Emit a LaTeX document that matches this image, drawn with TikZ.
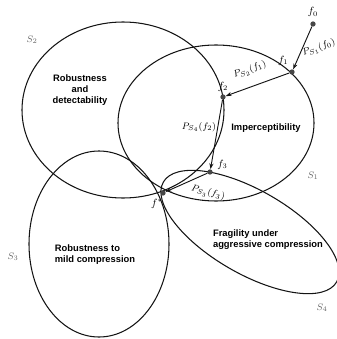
\documentclass[tikz,border=0pt]{standalone}
\usepackage{fontspec}
\setmainfont{Liberation Sans}
\usepackage{xcolor}
\usepackage{tikz}
\usetikzlibrary{arrows.meta,positioning}
\definecolor{tinta}{RGB}{20,20,20}
\definecolor{grispunto}{RGB}{70,70,70}
\definecolor{grisetiq}{RGB}{100,100,100}

\begin{document}
\begin{tikzpicture}[x=0.03cm,y=-0.03cm,
  conjunto/.style={draw=tinta,line width=0.9pt},
  punto/.style={circle,fill=grispunto,inner sep=0pt,minimum size=4.5pt},
  region/.style={font=\fontsize{8}{9.5}\selectfont\bfseries,align=center},
  proy/.style={-{Stealth[length=5pt,width=3.5pt]},line width=0.8pt,draw=tinta},
  etiq/.style={font=\footnotesize,text=grisetiq},
  proyetiq/.style={font=\footnotesize,inner sep=1pt}]
\useasboundingbox (0,0) rectangle (336,339);
% conjuntos
\draw[conjunto] (123,110) ellipse [x radius=3.03cm,y radius=2.64cm];
\draw[conjunto] (216,123) ellipse [x radius=2.94cm,y radius=2.34cm];
\draw[conjunto] (99,244) ellipse [x radius=2.1cm,y radius=2.79cm];
\draw[conjunto,rotate around={-30:(250,232)}] (250,232) ellipse [x radius=3.0cm,y radius=1.25cm];
\node[etiq] (s2) at (32,40) {$S_2$};
\node[etiq] (s1) at (313,176) {$S_1$};
\node[etiq] (s3) at (13,257) {$S_3$};
\node[etiq] (s4) at (322,308) {$S_4$};
% regiones
\node[region] (rob) at (80,90) {Robustness\\and\\detectability};
\node[region] (imp) at (266,128) {Imperceptibility};
\node[region,align=left] (mild) at (95,255) {Robustness to\\mild compression};
\node[region,align=left] (frag) at (268,240) {Fragility under\\aggressive compression};
% puntos
\node[punto] (f0) at (313,24) {};
\node[punto] (f1) at (292,72) {};
\node[punto] (f2) at (223,97) {};
\node[punto] (f3) at (210,172) {};
\node[punto] (fs) at (163,193) {};
\node[above=0pt of f0,font=\small] (lf0) {$f_0$};
\node[above left=0pt and -2pt of f1,font=\small] (lf1) {$f_1$};
\node[above=-1pt of f2,font=\small] (lf2) {$f_2$};
\node[above right=-3pt and 1pt of f3,font=\small] (lf3) {$f_3$};
\node[below left=0pt and -5pt of fs,font=\small] (lfs) {$f^*$};
% proyecciones
\draw[proy] (f0) -- (f1);
\draw[proy] (f1) -- (f2);
\draw[proy] (f2) -- (f3);
\draw[proy] (f3) -- (fs);
\node[proyetiq,rotate=20] (p1) at (319,48) {$P_{S_1}(f_0)$};
\node[proyetiq,rotate=20] (p2) at (250,70) {$P_{S_2}(f_1)$};
\node[proyetiq] (p3) at (199,127) {$P_{S_4}(f_2)$};
\node[proyetiq,rotate=-15] (p4) at (208,193) {$P_{S_3}(f_3)$};
\end{tikzpicture}
\end{document}
